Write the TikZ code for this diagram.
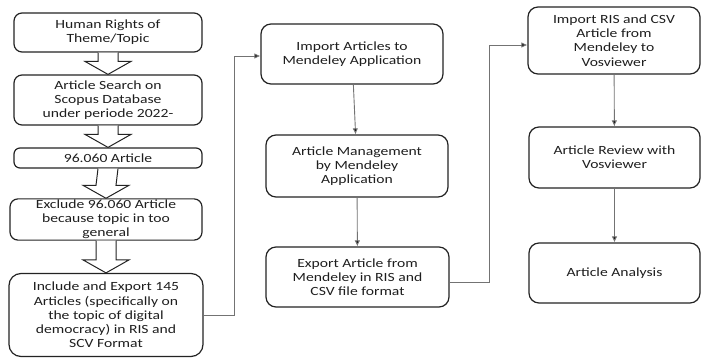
\documentclass[tikz,border=0pt]{standalone}
\usepackage{fontspec}
\setmainfont{Carlito}[FakeStretch=1.25]
\usepackage{xcolor}
\usetikzlibrary{arrows.meta, calc}
\definecolor{boxline}{RGB}{35,35,35}
\definecolor{linkgray}{RGB}{115,115,115}
\definecolor{textgray}{RGB}{30,30,30}

\tikzset{
  stepnode/.style={draw=boxline, line width=1.2pt, rounded corners=8pt, align=center,
    text=textgray, font=\fontsize{12.5}{14.2}\selectfont, inner sep=1pt},
  link/.style={draw=linkgray, line width=0.9pt, -{Latex[length=6pt,width=5.5pt,fill=black]}},
  blockarrow/.style={draw=boxline, line width=1pt, fill=white},
}

% hollow arrow between two boxes of the left column
\newcommand{\hollowarrow}[2]{%
  \draw[blockarrow] ($(#1.south)+(-10,0)$) -- ($(#2.north)+(-10,-13)$) -- ($(#2.north)+(-23,-13)$)
    -- (#2.north) -- ($(#2.north)+(23,-13)$) -- ($(#2.north)+(10,-13)$) -- ($(#1.south)+(10,0)$);}

\begin{document}
\begin{tikzpicture}[x=1pt, y=-1pt]
\useasboundingbox (0,0) rectangle (702,358);

% left column
\node[stepnode, minimum width=188pt, minimum height=39pt] (theme) at (108,32.5) {Human Rights of\\Theme/Topic};
\node[stepnode, minimum width=188pt, minimum height=50pt] (search) at (108,100) {Article Search on\\Scopus Database\\under periode 2022-};
\node[stepnode, minimum width=188pt, minimum height=20pt, rounded corners=6pt] (count) at (108,158) {96.060 Article};
\node[stepnode, minimum width=192pt, minimum height=41pt] (exclude) at (106,219.5) {Exclude 96.060 Article\\because topic in too\\general};
\node[stepnode, minimum width=194pt, minimum height=83pt, rounded corners=12pt] (include) at (106,315) {Include and Export 145\\Articles (specifically on\\the topic of digital\\democracy) in RIS and\\SCV Format};

\hollowarrow{theme}{search}
\hollowarrow{search}{count}
\hollowarrow{count}{exclude}
\hollowarrow{exclude}{include}

% middle column
\node[stepnode, minimum width=182pt, minimum height=60pt, rounded corners=10pt] (import) at (352,54) {Import Articles to\\Mendeley Application};
\node[stepnode, minimum width=182pt, minimum height=62pt, rounded corners=10pt] (manage) at (357,166) {Article Management\\by Mendeley\\Application};
\node[stepnode, minimum width=183pt, minimum height=60pt, rounded corners=10pt] (export) at (357.5,277) {Export Article from\\Mendeley in RIS and\\CSV file format};

% right column
\node[stepnode, minimum width=172pt, minimum height=67pt, rounded corners=10pt] (vosimport) at (614,40.5) {Import RIS and CSV\\Article from\\Mendeley to\\Vosviewer};
\node[stepnode, minimum width=171pt, minimum height=61pt, rounded corners=10pt] (review) at (614.5,157.5) {Article Review with\\Vosviewer};
\node[stepnode, minimum width=171pt, minimum height=60pt, rounded corners=10pt] (analysis) at (614.5,273) {Article Analysis};

% connectors
\draw[link] (include.east) -- ++(31,0) |- ([yshift=-2pt]import.west);
\draw[link] (import) -- (manage);
\draw[link] (manage) -- (export);
\draw[link] ([yshift=-5pt]export.east) -- ++(40,0) |- ([yshift=-4.5pt]vosimport.west);
\draw[link] (vosimport) -- (review);
\draw[link] (review) -- (analysis);

\end{tikzpicture}
\end{document}
